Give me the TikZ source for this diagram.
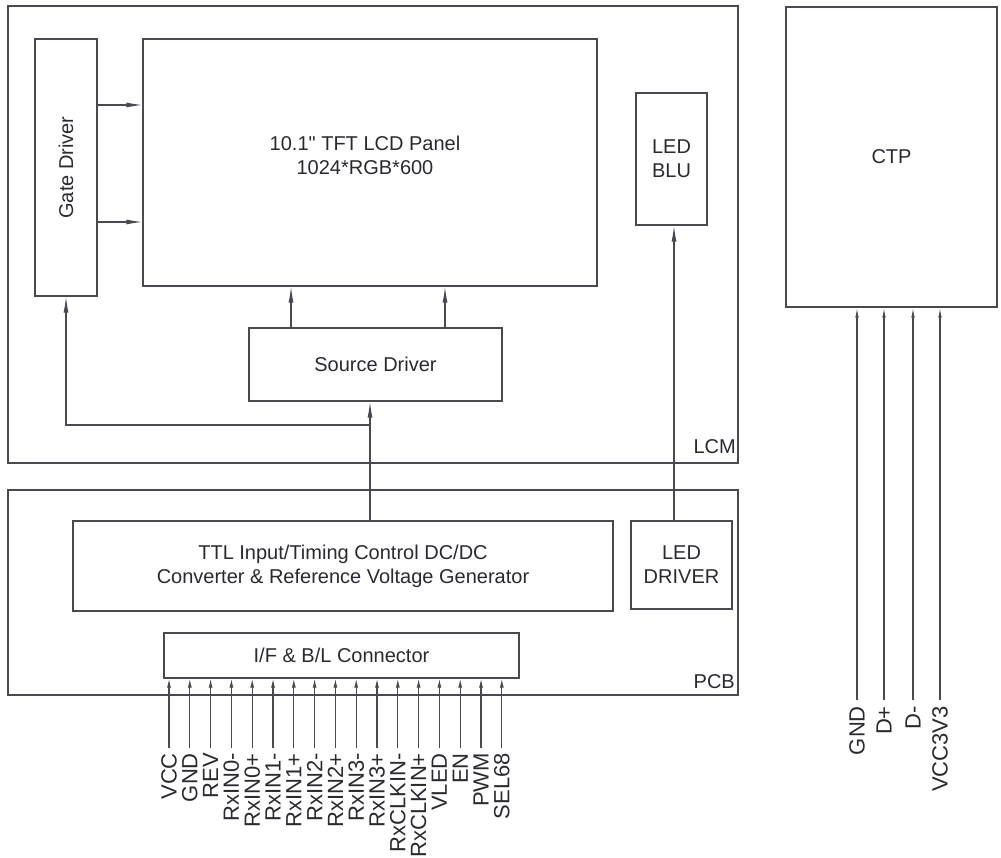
\documentclass[tikz,border=0pt]{standalone}
\usepackage{fontspec}
\setmainfont{Liberation Sans}
\usetikzlibrary{arrows.meta}
\definecolor{linegray}{RGB}{72,74,80}
\definecolor{textgray}{RGB}{40,42,48}

\begin{document}
\begin{tikzpicture}[
  x=1pt, y=-1pt,
  font=\fontsize{20}{24}\selectfont,
  text=textgray,
  box/.style={
    draw=linegray,
    line width=1.2pt,
    inner sep=0pt,
    align=center
  },
  arrow/.style={-{Latex[length=16pt,width=5pt]},line width=1.1pt,draw=linegray},
  pinarrow/.style={-{Latex[length=9pt,width=4pt]},line width=1.1pt,draw=linegray},
  ctparrow/.style={-{Latex[length=10pt,width=3.5pt]},line width=1.1pt,draw=linegray},
  pinlabel/.style={rotate=90, anchor=east, inner sep=0pt, font=\fontsize{22}{26}\selectfont}
]
\useasboundingbox (0,0) rectangle (1001,858);
% outer modules
\node[box, minimum width=730pt, minimum height=457pt] (lcm) at (373,234.5) {};
\node[box, minimum width=730pt, minimum height=205pt] (pcb) at (373,592.5) {};
\node[anchor=base east, inner sep=0pt] (lcmtxt) at (736,453) {LCM};
\node[anchor=base east, inner sep=0pt] (pcbtxt) at (735,688) {PCB};
% LCM blocks
\node[box, minimum width=62pt, minimum height=257pt] (gate) at (66,167.5) {};
\node[rotate=90] (gatetxt) at (gate.center) {Gate Driver};
\node[box, minimum width=454pt, minimum height=247pt] (panel) at (370,162.5) {};
\node[align=center] (paneltxt) at (365,155) {10.1\textquotedbl{} TFT LCD Panel\\1024*RGB*600};
\node[box, minimum width=253pt, minimum height=73pt] (source) at (375.5,364.5) {Source Driver};
\node[box, minimum width=71pt, minimum height=132pt] (ledblu) at (671.5,159) {LED\\BLU};
% PCB blocks
\node[box, minimum width=540pt, minimum height=90pt] (ttl) at (343,566)
{TTL Input/Timing Control DC/DC\\Converter \& Reference Voltage Generator};
\node[box, minimum width=101pt, minimum height=88pt] (ledrv) at (681.5,565) {LED\\DRIVER};
\node[box, minimum width=355pt, minimum height=45pt] (conn) at (341.5,655.5) {I/F \& B/L Connector};
% touch panel
\node[box, minimum width=211pt, minimum height=300pt] (ctp) at (891.5,157) {CTP};

\draw[arrow] (gate.east |- 0,105) -- (panel.west |- 0,105);
\draw[arrow] (gate.east |- 0,222) -- (panel.west |- 0,222);
\draw[arrow] (source.north -| 291,0) -- (panel.south -| 291,0);
\draw[arrow] (source.north -| 445,0) -- (panel.south -| 445,0);
\draw[arrow] (ttl.north -| 370,0) -- (source.south -| 370,0);
\coordinate (tap) at (370,425);
\draw[arrow] (tap) -| (gate.south);
\draw[arrow] (ledrv.north -| 674,0) -- (ledblu.south -| 674,0);

% connector pins
\foreach \name [count=\i from 0] in {VCC,GND,REV,RxIN0-,RxIN0+,RxIN1-,RxIN1+,RxIN2-,RxIN2+,RxIN3-,RxIN3+,RxCLKIN-,RxCLKIN+,VLED,EN,PWM,SEL68}{
  \pgfmathsetmacro\px{169+20.8*\i}
  \coordinate (pin\i) at (\px,748);
  \node[pinlabel] (pinlbl\i) at (\px,753) {\name};
  \draw[pinarrow] (pin\i) -- (conn.south -| pin\i);
}

% CTP pins
\foreach \name/\px [count=\i] in {GND/857,D+/884,D-/913,VCC3V3/940}{
  \coordinate (tp\i) at (\px,700);
  \node[pinlabel] (tplbl\i) at (\px,706) {\name};
  \draw[ctparrow] (tp\i) -- (ctp.south -| tp\i);
}
\end{tikzpicture}
\end{document}
